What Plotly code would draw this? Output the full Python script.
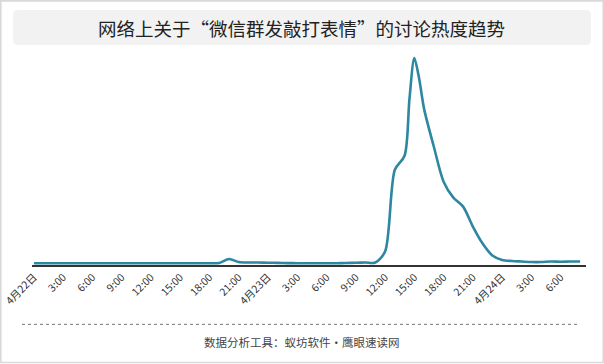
import plotly.graph_objects as go

# ---- data ----
hours = [0, 1, 2, 3, 4, 5, 6, 7, 8, 9, 10, 11, 12, 13, 14, 15, 16, 17, 18, 19,
         20, 21, 22, 23, 24, 25, 26, 27, 28, 29, 30, 31, 32, 33, 34, 35, 36, 37,
         38, 38.5, 39, 39.5, 40, 41, 42, 43, 44, 45, 46, 47, 48, 49, 50, 51, 52,
         53, 54, 55, 56]
heat = [0.3, 0.3, 0.3, 0.3, 0.3, 0.3, 0.3, 0.3, 0.3, 0.3, 0.3, 0.3, 0.3, 0.3, 0.3,
        0.3, 0.3, 0.3, 0.3, 0.6, 4.5, 1.5, 1.0, 1.0, 0.8, 0.6, 0.4, 0.3, 0.3, 0.3,
        0.3, 0.3, 0.5, 0.8, 1.0, 1.0, 12, 94, 108, 165, 206, 185, 155, 117, 82,
        66, 57, 37, 20, 8, 3.5, 2.5, 2.0, 1.5, 1.5, 2.0, 1.8, 2.0, 2.0]
tick_hours = [0, 3, 6, 9, 12, 15, 18, 21, 24, 27, 30, 33, 36, 39, 42, 45, 48, 51, 54]
tick_labels = ["4月22日", "3:00", "6:00", "9:00", "12:00", "15:00", "18:00", "21:00",
               "4月23日", "3:00", "6:00", "9:00", "12:00", "15:00", "18:00", "21:00",
               "4月24日", "3:00", "6:00"]
title_text = "网络上关于“微信群发敲打表情”的讨论热度趋势"
footer_text = "数据分析工具：蚁坊软件·鹰眼速读网"

W, H = 604, 364
L, R, T, B = 32, 18, 50, 98.5
pw, ph = W - L - R, H - T - B


def px(x):
    return (x - L) / pw


def py(y):
    return (H - B - y) / ph


fig = go.Figure()
fig.add_trace(go.Scatter(
    x=hours, y=heat, mode="lines",
    line=dict(color="#2d87a0", width=2.6, shape="spline", smoothing=0.8),
    hoverinfo="skip", showlegend=False,
))


def rounded(x0, y0, x1, y1, r):
    rx, ry = r / pw, r / ph
    a, b, c, d = px(x0), py(y0), px(x1), py(y1)
    return (f"M {a+rx},{b} L {c-rx},{b} Q {c},{b} {c},{b-ry} "
            f"L {c},{d+ry} Q {c},{d} {c-rx},{d} L {a+rx},{d} Q {a},{d} {a},{d+ry} "
            f"L {a},{b-ry} Q {a},{b} {a+rx},{b} Z")


shapes = [
    dict(type="rect", xref="paper", yref="paper", x0=px(0.8), x1=px(603.2),
         y0=py(0.8), y1=py(363.2), line=dict(color="#d9d9d9", width=1.6),
         fillcolor="rgba(0,0,0,0)", layer="below"),
    dict(type="path", xref="paper", yref="paper", path=rounded(13, 10, 591, 45, 5),
         fillcolor="#f2f2f2", line=dict(width=0), layer="below"),
    dict(type="line", xref="paper", yref="paper", x0=px(22), x1=px(580),
         y0=py(325), y1=py(325), line=dict(color="#777", width=1, dash="dot")),
]

annotations = [
    dict(text=title_text, xref="paper", yref="paper", x=px(301), y=py(27.5),
         showarrow=False, xanchor="center", yanchor="middle",
         font=dict(family="Noto Sans CJK SC", size=18.5, color="#222")),
    dict(text=footer_text, xref="paper", yref="paper", x=px(302), y=py(342.5),
         showarrow=False, xanchor="center", yanchor="middle",
         font=dict(family="Noto Sans CJK SC", size=11.5, color="#444")),
]

fig.update_layout(
    width=W, height=H,
    margin=dict(l=L, r=R, t=T, b=B, autoexpand=False),
    paper_bgcolor="white", plot_bgcolor="white",
    shapes=shapes, annotations=annotations,
    xaxis=dict(range=[-0.2, 56.6], tickmode="array", tickvals=tick_hours,
               ticktext=tick_labels, tickangle=-45, showgrid=False, zeroline=False,
               showline=True, linecolor="#333", linewidth=2, ticks="",
               automargin=False,
               tickfont=dict(family="Noto Sans CJK SC", size=10.5, color="#333"),
               fixedrange=True),
    yaxis=dict(range=[-1.5, 214], visible=False, showgrid=False, zeroline=False,
               automargin=False, fixedrange=True),
)

fig.write_html("out.html", config={"displayModeBar": False},
               post_script="document.body.style.margin='0';"
                           "document.body.style.overflow='hidden';")
